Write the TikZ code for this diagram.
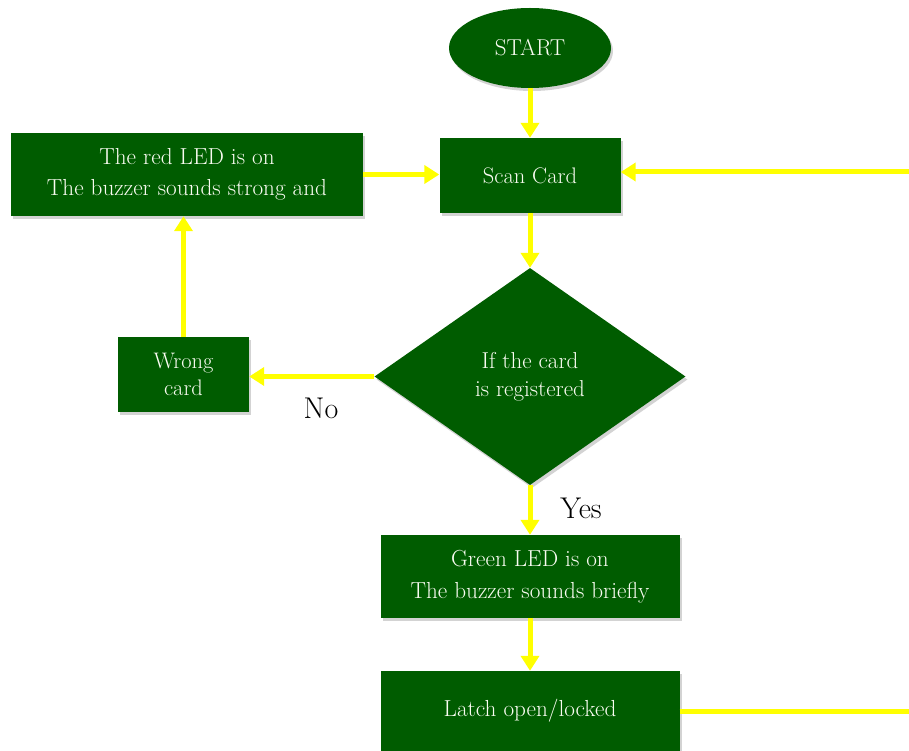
\documentclass[tikz,border=0pt]{standalone}
\usepackage{fontspec}
\usetikzlibrary{shapes.geometric,arrows.meta,shadows}
\definecolor{boxgreen}{RGB}{0,92,0}
\definecolor{arrowyellow}{RGB}{255,255,0}
\definecolor{boxtext}{RGB}{250,252,242}
\tikzset{
  shade/.style={drop shadow={opacity=0.35,shadow xshift=2pt,shadow yshift=-3pt}},
  procbox/.style={rectangle,fill=boxgreen,text=boxtext,inner sep=0pt,align=center,shade,
    font=\fontsize{23.2}{31.5}\selectfont},
  decbox/.style={diamond,fill=boxgreen,text=boxtext,inner sep=0pt,align=center,shade,
    font=\fontsize{23}{28}\selectfont},
  termbox/.style={ellipse,fill=boxgreen,text=boxtext,inner sep=0pt,shade,
    font=\fontsize{23}{25}\selectfont},
  arr/.style={draw=arrowyellow,line width=5pt,-{Triangle[width=18pt,length=15pt]}},
  plainline/.style={draw=arrowyellow,line width=5pt},
  lbl/.style={text=black,font=\fontsize{30}{32}\selectfont,inner sep=0pt}
}
\begin{document}
\begin{tikzpicture}[x=1pt,y=-1pt]
\useasboundingbox (0,0) rectangle (909,751);
\clip (0,0) rectangle (909,751);
\node[termbox,minimum width=162pt,minimum height=80pt] (start) at (530,48) {START};
\node[procbox,minimum width=181pt,minimum height=75pt,font=\fontsize{22.5}{31.5}\selectfont] (scan) at (530,175.5) {Scan Card};
\node[procbox,minimum width=352pt,minimum height=83pt] (red) at (187,174.5) {The red LED is on\\The buzzer sounds strong and};
\node[decbox,minimum width=311pt,minimum height=217pt] (dec) at (530,376.5) {If the card\\is registered};
\node[procbox,minimum width=131pt,minimum height=75pt,font=\fontsize{22.5}{27}\selectfont] (wrong) at (183.5,374.5) {Wrong\\card};
\node[procbox,minimum width=299pt,minimum height=83pt] (green) at (530,576.5) {Green LED is on\\The buzzer sounds briefly};
\node[procbox,minimum width=299pt,minimum height=80pt] (latch) at (530,711) {Latch open/locked};
\node[lbl] (no) at (321,408) {No};
\node[lbl] (yes) at (581,508) {Yes};
\coordinate (r1) at (912,172);
\coordinate (r2) at (912,711);
\draw[arr] (start) -- (scan);
\draw[arr] (scan) -- (dec);
\draw[arr] (dec.west) -- (dec.west -| wrong.east);
\draw[arr] (wrong.north) -- (wrong.north |- red.south);
\draw[arr] (red.east) -- (red.east -| scan.west);
\draw[arr] (dec.south) -- (green.north);
\draw[arr] (green) -- (latch);
\draw[plainline] (latch.east) -- (r2);
\draw[arr] (r1) -- (r1 -| scan.east);
\end{tikzpicture}
\end{document}
